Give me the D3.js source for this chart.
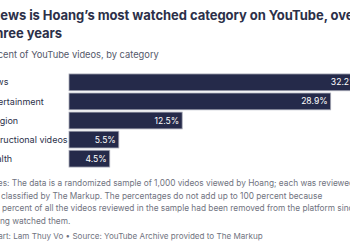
<!DOCTYPE html>
<html>
<head>
<meta charset="utf-8">
<script src="https://cdn.jsdelivr.net/npm/d3@7"></script>
<style>
  body { margin: 0; background: #fff; overflow: hidden; }
  svg { display: block; font-family: Inter, "Noto Sans", sans-serif; }
</style>
</head>
<body>
<svg id="chart" width="350" height="250"></svg>
<script>
var categories = ['News', 'Entertainment', 'Religion', 'Instructional videos', 'Health'];
var percents = [32.2, 28.9, 12.5, 5.5, 4.5];

var titleLines = ['News is Hoang\u2019s most watched category on YouTube, over', 'three years'];
var subtitle = 'Percent of YouTube videos, by category';
var noteLines = [
  'Notes: The data is a randomized sample of 1,000 videos viewed by Hoang; each was reviewed',
  'and classified by The Markup. The percentages do not add up to 100 percent because',
  '13.5 percent of all the videos reviewed in the sample had been removed from the platform since',
  'Hoang watched them.'
];
var credit = 'Chart: Lam Thuy Vo \u2022 Source: YouTube Archive provided to The Markup';

var svg = d3.select('#chart');

// titles
svg.selectAll('.title')
    .data(titleLines)
  .enter().append('text')
    .attr('class', 'title')
    .attr('x', -9.5)
    .attr('y', function(d, i) { return 20 + i * 18; })
    .attr('font-size', 13)
    .attr('font-weight', 700)
    .attr('letter-spacing', -0.05)
    .attr('fill', '#2c3049')
    .text(function(d) { return d; });

svg.append('text')
    .attr('x', -17)
    .attr('y', 58)
    .attr('font-size', 9.3)
    .attr('fill', '#55596a')
    .text(subtitle);

// bars
var x = d3.scaleLinear().domain([0, 10]).range([69, 69 + 90.55]);
var y = d3.scaleBand().domain(categories).range([73, 168]).paddingInner(0.12).paddingOuter(0.05);

var rows = svg.selectAll('.row')
    .data(categories)
  .enter().append('g')
    .attr('class', 'row');

rows.append('text')
    .attr('x', -15.5)
    .attr('y', function(d) { return y(d) + y.bandwidth() / 2; })
    .attr('dy', '0.35em')
    .attr('font-size', 9)
    .attr('fill', '#2c3049')
    .text(function(d) { return d; });

rows.append('rect')
    .attr('x', x(0))
    .attr('y', function(d) { return y(d); })
    .attr('width', function(d, i) { return x(percents[i]) - x(0); })
    .attr('height', y.bandwidth())
    .attr('fill', '#252a4a')
    .attr('stroke', '#a9abb8')
    .attr('stroke-width', 0.8);

rows.append('text')
    .attr('x', function(d, i) { return x(percents[i]) - 3; })
    .attr('y', function(d) { return y(d) + y.bandwidth() / 2; })
    .attr('dy', '0.35em')
    .attr('text-anchor', 'end')
    .attr('font-size', 8.6)
    .attr('fill', '#fff')
    .text(function(d, i) { return percents[i] + '%'; });

// notes
svg.selectAll('.note')
    .data(noteLines)
  .enter().append('text')
    .attr('class', 'note')
    .attr('x', -16)
    .attr('y', function(d, i) { return 186 + i * 12.6; })
    .attr('font-size', 8.3)
    .attr('fill', '#707380')
    .text(function(d) { return d; });

svg.append('text')
    .attr('x', -12.5)
    .attr('y', 238.5)
    .attr('font-size', 8.1)
    .attr('fill', '#707380')
    .text(credit);
</script>
</body>
</html>
